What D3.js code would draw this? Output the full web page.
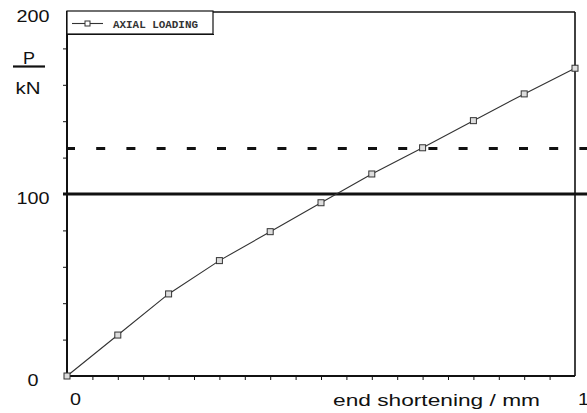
<!DOCTYPE html>
<html>
<head>
<meta charset="utf-8">
<script src="https://cdn.jsdelivr.net/npm/d3@7"></script>
<style>
  html, body { margin: 0; padding: 0; background: #fff; }
  svg { display: block; }
</style>
</head>
<body>
<svg id="chart" width="587" height="413"></svg>
<script>
// ---- data ----
const shortening = [0, 0.1, 0.2, 0.3, 0.4, 0.5, 0.6, 0.7, 0.8, 0.9, 1.0];
const loadKN = [0, 22.5, 45.1, 63.4, 79.3, 95.2, 111, 125.4, 140.3, 155, 169.1];
const solidLevel = 100;
const dashedLevel = 125;
const yTickLabels = [0, 100, 200];
const yMinorTicks = [20, 40, 60, 80, 120, 140, 160, 180];
const xTickLabels = [0, 1];
const xMinorTicks = d3.range(1, 20).map(i => i * 0.05);
const seriesName = "AXIAL LOADING";

(function () {
const svg = d3.select("#chart");
const mLeft = 67, mRight = 575, mTop = 12, mBottom = 376;
const x = d3.scaleLinear().domain([0, 1]).range([mLeft, mRight]);
const y = d3.scaleLinear().domain([0, 200]).range([mBottom, mTop]);
const ink = "#111";

// frame (top & right thinner)
svg.append("line").attr("x1", mLeft).attr("x2", mRight).attr("y1", mTop).attr("y2", mTop)
  .attr("stroke", ink).attr("stroke-width", 1.6);
svg.append("line").attr("x1", mRight).attr("x2", mRight).attr("y1", mTop).attr("y2", mBottom)
  .attr("stroke", ink).attr("stroke-width", 1.6);

// minor ticks via axes
const yMinor = svg.append("g").attr("transform", `translate(${mLeft},0)`)
  .call(d3.axisLeft(y).tickValues(yMinorTicks).tickSize(4).tickFormat(""));
yMinor.select(".domain").remove();
yMinor.selectAll("line").attr("stroke", ink).attr("stroke-width", 1);

const xMinor = svg.append("g").attr("transform", `translate(0,${mBottom})`)
  .call(d3.axisBottom(x).tickValues(xMinorTicks).tickSize(4).tickFormat(""));
xMinor.select(".domain").remove();
xMinor.selectAll("line").attr("stroke", ink).attr("stroke-width", 1);

// reference lines
svg.append("line").attr("x1", 63).attr("x2", 587)
  .attr("y1", y(solidLevel)).attr("y2", y(solidLevel))
  .attr("stroke", ink).attr("stroke-width", 3);
svg.append("line").attr("x1", 66).attr("x2", 587)
  .attr("y1", y(dashedLevel)).attr("y2", y(dashedLevel))
  .attr("stroke", ink).attr("stroke-width", 3)
  .attr("stroke-dasharray", "9,21.2");

// main axes
svg.append("line").attr("x1", mLeft).attr("x2", mLeft).attr("y1", mTop - 1).attr("y2", mBottom + 2)
  .attr("stroke", ink).attr("stroke-width", 2);
svg.append("line").attr("x1", mLeft - 3).attr("x2", mRight).attr("y1", mBottom).attr("y2", mBottom)
  .attr("stroke", ink).attr("stroke-width", 2.2);

// y labels
const yAx = svg.append("g").attr("transform", `translate(${mLeft},0)`)
  .call(d3.axisLeft(y).tickValues(yTickLabels).tickSize(0).tickFormat(d3.format("d")));
yAx.select(".domain").remove();
yAx.selectAll("text")
  .attr("x", -34).attr("dy", "0.32em").attr("y", 4)
  .attr("text-anchor", "middle")
  .attr("font-family", "Liberation Sans, Arial, sans-serif")
  .attr("font-size", 17).attr("fill", ink)
  .each(function (d) {
    const s = String(d);
    d3.select(this).attr("textLength", s.length * 11).attr("lengthAdjust", "spacingAndGlyphs");
  });

// x labels
const xAx = svg.append("g").attr("transform", `translate(0,${mBottom})`)
  .call(d3.axisBottom(x).tickValues(xTickLabels).tickSize(0).tickFormat(d3.format("d")));
xAx.select(".domain").remove();
xAx.selectAll("text")
  .attr("dx", 8).attr("y", 24).attr("dy", "0.32em")
  .attr("text-anchor", "middle")
  .attr("font-family", "Liberation Sans, Arial, sans-serif")
  .attr("font-size", 17).attr("fill", ink)
  .attr("textLength", 11).attr("lengthAdjust", "spacingAndGlyphs");

// x title
svg.append("text").attr("x", 333).attr("y", 406)
  .attr("font-family", "Liberation Sans, Arial, sans-serif")
  .attr("font-size", 17).attr("fill", ink)
  .attr("textLength", 207).attr("lengthAdjust", "spacingAndGlyphs")
  .text("end shortening / mm");

// y title P / kN
svg.append("text").attr("x", 29).attr("y", 64).attr("text-anchor", "middle")
  .attr("font-family", "Liberation Sans, Arial, sans-serif")
  .attr("font-size", 17).attr("fill", ink)
  .attr("textLength", 12).attr("lengthAdjust", "spacingAndGlyphs")
  .text("P");
svg.append("line").attr("x1", 13).attr("x2", 45).attr("y1", 66.5).attr("y2", 66.5)
  .attr("stroke", ink).attr("stroke-width", 2.2);
svg.append("text").attr("x", 28).attr("y", 94).attr("text-anchor", "middle")
  .attr("font-family", "Liberation Sans, Arial, sans-serif")
  .attr("font-size", 17).attr("fill", ink)
  .attr("textLength", 25).attr("lengthAdjust", "spacingAndGlyphs")
  .text("kN");

// data line
const line = d3.line().x((d, i) => x(shortening[i])).y(d => y(d));
svg.append("path").datum(loadKN).attr("d", line)
  .attr("fill", "none").attr("stroke", "#333").attr("stroke-width", 1.1);

// markers
svg.selectAll("rect.mk").data(loadKN).join("rect").attr("class", "mk")
  .attr("x", (d, i) => x(shortening[i]) - 3).attr("y", d => y(d) - 3)
  .attr("width", 6).attr("height", 6)
  .attr("fill", "#ddd").attr("stroke", "#333").attr("stroke-width", 1);

// legend
const lg = svg.append("g");
lg.append("rect").attr("x", 67).attr("y", 11).attr("width", 146).attr("height", 23)
  .attr("fill", "#fff").attr("stroke", ink).attr("stroke-width", 1.2);
lg.append("line").attr("x1", 68).attr("x2", 214).attr("y1", 34.5).attr("y2", 34.5)
  .attr("stroke", ink).attr("stroke-width", 1);
lg.append("line").attr("x1", 72).attr("x2", 103).attr("y1", 23.5).attr("y2", 23.5)
  .attr("stroke", "#333").attr("stroke-width", 1.1);
lg.append("rect").attr("x", 85).attr("y", 21).attr("width", 5).attr("height", 5)
  .attr("fill", "#fff").attr("stroke", "#333").attr("stroke-width", 1);
lg.append("text").attr("x", 113).attr("y", 27.5)
  .attr("font-family", "Liberation Mono, Courier New, monospace")
  .attr("font-size", 11).attr("font-weight", "bold").attr("fill", "#333")
  .attr("textLength", 85).attr("lengthAdjust", "spacingAndGlyphs")
  .text(seriesName);
})();
</script>
</body>
</html>
